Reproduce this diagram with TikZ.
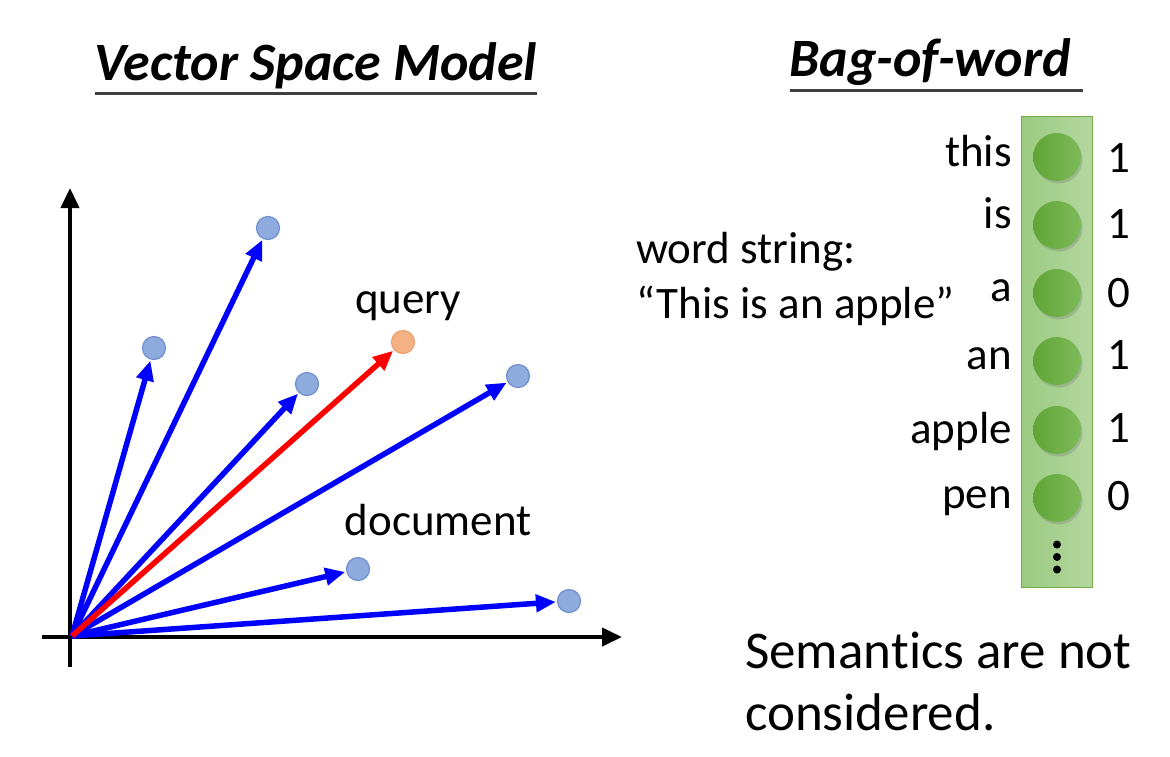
\documentclass[tikz,border=0pt]{standalone}
\usepackage{fontspec}
\setmainfont{Carlito}[Ligatures={TeX,NoCommon}, Contextuals=NoAlternate]
\usetikzlibrary{arrows.meta, positioning, shadows}

\definecolor{dotblue}{HTML}{8FAADC}
\definecolor{dotedge}{HTML}{6F8FD0}
\definecolor{qfill}{HTML}{F4B183}
\definecolor{qedge}{HTML}{F0A070}
\definecolor{bagL}{HTML}{9BCA80}
\definecolor{bagR}{HTML}{B4D7A0}
\definecolor{bagedge}{HTML}{70AD47}
\definecolor{cellL}{HTML}{5FA535}
\definecolor{cellR}{HTML}{7DBA5A}
\definecolor{rule}{HTML}{404040}

\tikzset{
    title/.style={font=\fontsize{54}{62}\selectfont\bfseries\itshape, anchor=base, inner sep=0pt},
    txt/.style={font=\fontsize{45}{54}\selectfont, inner sep=0pt},
    big/.style={font=\fontsize{53}{62}\selectfont, inner sep=0pt, anchor=base west},
    doc/.style={circle, draw=dotedge, fill=dotblue, line width=1.2pt, minimum size=23pt, inner sep=0pt},
    qry/.style={doc, draw=qedge, fill=qfill},
    vec/.style={draw=blue, line width=5.5pt, -{Triangle[length=20pt,width=17pt]}, shorten >=1pt},
    axis/.style={line width=4pt, -{Triangle[length=20pt,width=18pt]}},
    cell/.style={circle, minimum size=48pt, inner sep=0pt, left color=cellL, right color=cellR,
        drop shadow={opacity=0.35, shadow xshift=1.5pt, shadow yshift=-2.5pt}},
    word/.style={txt, anchor=base east},
    val/.style={txt, anchor=base west}
}

\begin{document}
\begin{tikzpicture}[x=1pt, y=-1pt]
    \useasboundingbox (0,0) rectangle (1170,756);

    % Titles
    \node [title] (vsm) at (316,80) {Vector Space Model};
    \node [title] (bow) at (930,76) {Bag-of-word};
    \draw [rule, line width=3pt] (95,93) -- (537,93);
    \draw [rule, line width=3pt] (790,90) -- (1083,90);

    % Axes
    \coordinate (o) at (72,636);
    \coordinate (ytop) at (70,188);
    \coordinate (ybot) at (70,667);
    \coordinate (xl) at (42,637);
    \coordinate (xr) at (622,637);
    \draw [axis] (ybot) -- (ytop);
    \draw [axis] (xl) -- (xr);

    % Documents and query
    \node [doc] (d1) at (268,228) {};
    \node [doc] (d2) at (154,348) {};
    \node [doc] (d3) at (307,384) {};
    \node [doc] (d4) at (518,376) {};
    \node [doc] (d5) at (358,569) {};
    \node [doc] (d6) at (569,601) {};
    \node [qry] (q) at (403,342) {};
    \node [txt, anchor=base] (qlabel) at (408,313) {query};
    \node [txt, anchor=base] (dlabel) at (438,535) {document};

    \draw [vec] (o) -- (d1);
    \draw [vec] (o) -- (d2);
    \draw [vec] (o) -- (d3);
    \draw [vec] (o) -- (d4);
    \draw [vec] (o) -- (d5);
    \draw [vec] (o) -- (d6);
    \draw [vec, draw=red] (o) -- (q);

    % Word string
    \node [txt, anchor=base west] (ws1) at (636,263) {word string:};
    \node [txt, anchor=base west] (ws2) at (636,318) {“This is an apple”};

    % Bag-of-word vector
    \node [draw=bagedge, left color=bagL, right color=bagR, line width=1pt, minimum width=71pt, minimum height=471pt, inner sep=0pt] (bag) at (1057,351.5) {};
    \node [cell] (c1) at (1057,157) {};
    \node [cell] (c2) at (1057,225) {};
    \node [cell] (c3) at (1057,293) {};
    \node [cell] (c4) at (1057,361) {};
    \node [cell] (c5) at (1057,430) {};
    \node [cell] (c6) at (1057,498) {};
    \coordinate (more) at (1057,557);
    \foreach \k in {-1,0,1}
        \fill ([yshift=\k*12.5pt]more) circle (4pt);

    \node [word] (w1) at (1012,166) {this};
    \node [word] (w2) at (1012,228) {is};
    \node [word] (w3) at (1012,301) {a};
    \node [word] (w4) at (1012,369) {an};
    \node [word] (w5) at (1012,443) {apple};
    \node [word] (w6) at (1012,508) {pen};

    \node [val] (v1) at (1107,172) {1};
    \node [val] (v2) at (1107,238) {1};
    \node [val] (v3) at (1107,307) {0};
    \node [val] (v4) at (1107,369) {1};
    \node [val] (v5) at (1107,442) {1};
    \node [val] (v6) at (1107,510) {0};

    % Remark
    \node [big] (sem1) at (745,668) {Seman\kern0pt tics are not};
    \node [big] (sem2) at (745,730) {considered.};
\end{tikzpicture}
\end{document}
